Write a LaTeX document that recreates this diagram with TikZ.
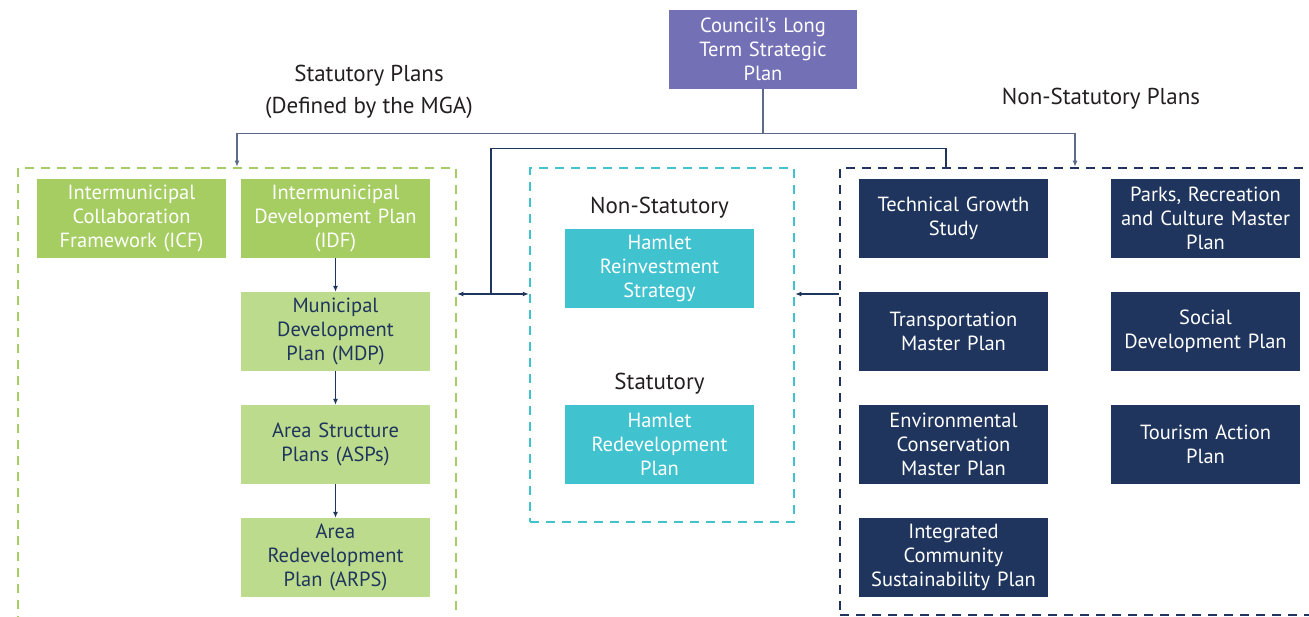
\documentclass[tikz,border=0pt]{standalone}
\usepackage{fontspec}
\setmainfont{PT Sans}
\usetikzlibrary{arrows.meta}
\definecolor{purp}{HTML}{7370B5}
\definecolor{gdark}{HTML}{A5CD62}
\definecolor{glight}{HTML}{BCDB8C}
\definecolor{cyanb}{HTML}{40C2CF}
\definecolor{navy}{HTML}{1F355E}
\definecolor{slate}{HTML}{5D6B8A}
\definecolor{txt}{HTML}{231F20}
\begin{document}
\begin{tikzpicture}[x=1pt,y=-1pt,
  box/.style={minimum width=189pt,minimum height=79pt,inner sep=0pt,align=center,
    text width=188pt,font=\fontsize{20.5}{24}\selectfont},
  gbox/.style={box,fill=gdark,text=white},
  lbox/.style={box,fill=glight,text=navy},
  cbox/.style={box,fill=cyanb,text=white},
  nbox/.style={box,fill=navy,text=white},
  frame/.style={draw,line width=2.5pt,dash pattern=on 9pt off 7pt,inner sep=0pt},
  head/.style={font=\fontsize{23}{32}\selectfont,text=txt,align=center},
  topline/.style={draw=slate,line width=1.3pt},
  navline/.style={draw=navy,line width=1.3pt},
  tip/.style={-{Latex[length=6pt,width=5pt]}},
  tips/.style={{Latex[length=6pt,width=5pt]}-{Latex[length=6pt,width=5pt]}}]
\useasboundingbox (0,0) rectangle (1309,617);
\clip (0,0) rectangle (1309,617);

% dashed frames
\node[frame,draw=gdark,minimum width=438pt,minimum height=532pt] (stat) at (237,434) {};
\node[frame,draw=cyanb,minimum width=264pt,minimum height=354pt] (cyanf) at (662,345) {};
\node[frame,draw=navy,minimum width=520pt,minimum height=447pt] (nonstat) at (1100,391.5) {};

% top
\node[box,fill=purp,text=white,minimum width=188pt] (council) at (763,49.5) {Council’s Long\\Term Strategic\\Plan};
\node[head] (sp) at (369,92) {Statutory Plans\\(Defined by the MGA)};
\node[head] (nsp) at (1101,99) {Non-Statutory Plans};

% statutory column
\node[gbox] (icf) at (131.5,218.5) {Intermunicipal\\Collaboration\\Framework (ICF)};
\node[gbox] (idf) at (335.5,218.5) {Intermunicipal\\Development Plan\\(IDF)};
\node[lbox] (mdp) at (335.5,331.5) {Municipal\\Development\\Plan (MDP)};
\node[lbox] (asp) at (335.5,444.5) {Area Structure\\Plans (ASPs)};
\node[lbox] (arp) at (335.5,557.5) {Area\\Redevelopment\\Plan (ARPS)};

% hamlet column
\node[head,font=\fontsize{23}{24}\selectfont] (nslab) at (659.5,208) {Non-Statutory};
\node[cbox] (hrs) at (659.5,268.5) {Hamlet\\Reinvestment\\Strategy};
\node[head,font=\fontsize{23}{24}\selectfont] (slab) at (659.5,384) {Statutory};
\node[cbox] (hrp) at (659.5,444.5) {Hamlet\\Redevelopment\\Plan};

% non-statutory
\node[nbox] (tgs) at (953.5,218.5) {Technical Growth\\Study};
\node[nbox] (prc) at (1205.5,218.5) {Parks, Recreation\\and Culture Master\\Plan};
\node[nbox] (tmp) at (953.5,331.5) {Transportation\\Master Plan};
\node[nbox] (sdp) at (1205.5,331.5) {Social\\Development Plan};
\node[nbox] (ecm) at (953.5,444.5) {Environmental\\Conservation\\Master Plan};
\node[nbox] (tap) at (1205.5,444.5) {Tourism Action\\Plan};
\node[nbox] (ics) at (953.5,557.5) {Integrated\\Community\\Sustainability Plan};

% connectors
\draw[topline,tip] (council.south) -- ++(0,44) -| (stat.north);
\draw[topline,tip] (council.south) -- ++(0,44) -| ([xshift=-25pt]nonstat.north);
\coordinate (j2) at (491,294);
\draw[navline] ([xshift=-154pt]nonstat.north) -- ++(0,-18) -| (j2);
\draw[navline,tips] (stat.east |- j2) -- (cyanf.west |- j2);
\draw[navline,tip] (nonstat.west |- j2) -- (cyanf.east |- j2);
\draw[navline,tip] (idf) -- (mdp);
\draw[navline,tip] (mdp) -- (asp);
\draw[navline,tip] (asp) -- (arp);
\end{tikzpicture}
\end{document}
